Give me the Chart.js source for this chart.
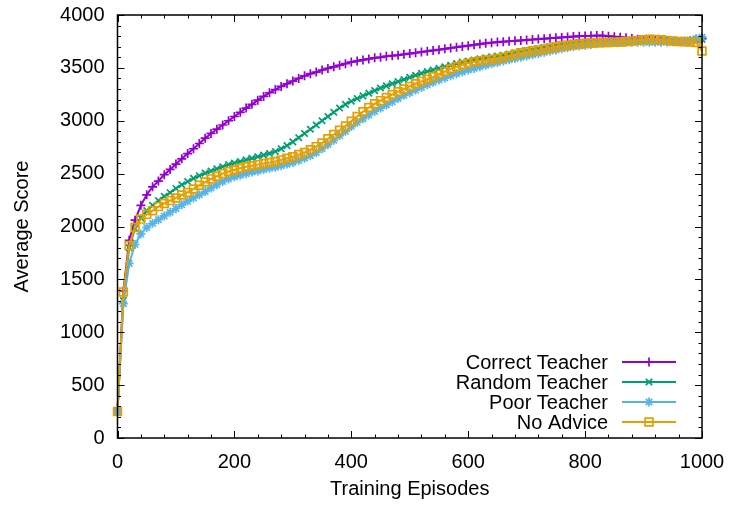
<!DOCTYPE html>
<html>
<head>
<meta charset="utf-8">
<script src="https://cdn.jsdelivr.net/npm/chart.js@4.4.1/dist/chart.umd.min.js"></script>
<style>
  html, body { margin: 0; padding: 0; background: #fff; }
  #wrap { width: 730px; height: 506px; }
</style>
</head>
<body>
<div id="wrap"><canvas id="scoreChart" width="730" height="506"></canvas></div>
<script>
const episodes = [
  0, 10, 20, 30, 40, 50, 60, 70, 80, 90,
  100, 110, 120, 130, 140, 150, 160, 170, 180, 190,
  200, 210, 220, 230, 240, 250, 260, 270, 280, 290,
  300, 310, 320, 330, 340, 350, 360, 370, 380, 390,
  400, 410, 420, 430, 440, 450, 460, 470, 480, 490,
  500, 510, 520, 530, 540, 550, 560, 570, 580, 590,
  600, 610, 620, 630, 640, 650, 660, 670, 680, 690,
  700, 710, 720, 730, 740, 750, 760, 770, 780, 790,
  800, 810, 820, 830, 840, 850, 860, 870, 880, 890,
  900, 910, 920, 930, 940, 950, 960, 970, 980, 990,
  1000
];

const correctTeacher = [
  250, 1390, 1870, 2060, 2200, 2300, 2375, 2430, 2490, 2540,
  2590, 2640, 2690, 2735, 2785, 2835, 2880, 2920, 2960, 3000,
  3040, 3080, 3120, 3155, 3195, 3230, 3265, 3295, 3325, 3350,
  3375, 3400, 3425, 3445, 3460, 3480, 3495, 3510, 3525, 3540,
  3555, 3565, 3575, 3585, 3595, 3600, 3610, 3615, 3620, 3628,
  3635, 3643, 3650, 3657, 3665, 3672, 3680, 3688, 3695, 3703,
  3710, 3718, 3725, 3732, 3738, 3744, 3748, 3752, 3756, 3760,
  3764, 3768, 3772, 3776, 3780, 3784, 3788, 3792, 3796, 3800,
  3802, 3804, 3805, 3805, 3800, 3795, 3790, 3785, 3778, 3770,
  3765, 3760, 3758, 3755, 3752, 3750, 3750, 3752, 3760, 3770,
  3775
];

const randomTeacher = [
  250, 1300, 1800, 1980, 2080, 2150, 2200, 2245, 2285, 2320,
  2360, 2395, 2425, 2455, 2480, 2505, 2525, 2545, 2565, 2585,
  2600, 2615, 2630, 2645, 2660, 2675, 2690, 2710, 2735, 2765,
  2800, 2840, 2880, 2920, 2960, 3000, 3040, 3080, 3120, 3155,
  3185, 3210, 3235, 3260, 3285, 3310, 3330, 3350, 3370, 3390,
  3410, 3430, 3448, 3465, 3480, 3495, 3510, 3525, 3540, 3555,
  3565, 3575, 3585, 3595, 3605, 3612, 3620, 3630, 3640, 3650,
  3660, 3670, 3680, 3690, 3700, 3710, 3718, 3726, 3734, 3740,
  3745, 3750, 3752, 3755, 3757, 3758, 3758, 3757, 3757, 3756,
  3756, 3757, 3757, 3757, 3757, 3758, 3758, 3760, 3762, 3765,
  3770
];

const poorTeacher = [
  250, 1270, 1650, 1830, 1930, 1990, 2030, 2065, 2100, 2135,
  2170, 2205, 2240, 2270, 2300, 2330, 2365, 2395, 2425, 2450,
  2470, 2485, 2500, 2515, 2525, 2540, 2550, 2560, 2575, 2590,
  2605, 2625, 2645, 2670, 2700, 2735, 2775, 2815, 2860, 2900,
  2945, 2985, 3020, 3055, 3090, 3120, 3150, 3180, 3210, 3240,
  3265, 3290, 3315, 3340, 3365, 3385, 3405, 3425, 3445, 3462,
  3480, 3495, 3510, 3525, 3540, 3552, 3565, 3578, 3590, 3600,
  3612, 3624, 3636, 3648, 3660, 3670, 3680, 3690, 3700, 3708,
  3715, 3722, 3728, 3734, 3738, 3740, 3742, 3742, 3742, 3742,
  3742, 3742, 3742, 3742, 3744, 3746, 3748, 3752, 3760, 3775,
  3790
];

const noAdvice = [
  250, 1380, 1820, 1990, 2070, 2115, 2150, 2188, 2218, 2245,
  2270, 2298, 2322, 2355, 2390, 2420, 2450, 2475, 2500, 2520,
  2535, 2550, 2565, 2575, 2585, 2595, 2605, 2615, 2630, 2645,
  2660, 2680, 2700, 2725, 2755, 2790, 2830, 2870, 2910, 2950,
  2995, 3040, 3085, 3125, 3160, 3190, 3220, 3248, 3275, 3300,
  3325, 3350, 3372, 3392, 3415, 3440, 3465, 3490, 3510, 3530,
  3545, 3558, 3568, 3575, 3580, 3588, 3600, 3615, 3630, 3642,
  3652, 3662, 3670, 3678, 3688, 3698, 3706, 3714, 3720, 3725,
  3730, 3735, 3738, 3740, 3741, 3742, 3745, 3750, 3755, 3760,
  3765, 3770, 3768, 3765, 3760, 3755, 3750, 3748, 3745, 3740,
  3660
];

const seriesNames = ["Correct Teacher", "Random Teacher", "Poor Teacher", "No Advice"];
const seriesColors = ["#9400d3", "#009e73", "#56b4e9", "#e69f00"];
const seriesMarkers = ["cross", "crossRot", "star", "rect"];
const xTicks = [0, 200, 400, 600, 800, 1000];
const yTicks = [0, 500, 1000, 1500, 2000, 2500, 3000, 3500, 4000];

const FONT = "'Liberation Sans', Arial, Helvetica, sans-serif";
const FSIZE = 20;

function makeSet(i, values) {
  return {
    label: seriesNames[i],
    data: values,
    borderColor: seriesColors[i],
    backgroundColor: "rgba(0,0,0,0)",
    borderWidth: 2,
    pointStyle: seriesMarkers[i],
    pointRadius: seriesMarkers[i] === "rect" ? 5.5 : 4.5,
    pointBorderWidth: 1.7,
    pointBorderColor: seriesColors[i],
    pointBackgroundColor: "rgba(0,0,0,0)",
    tension: 0,
    clip: false,
    order: 4 - i
  };
}

// gnuplot-style frame with inward ticks on all four sides
const framePlugin = {
  id: "frame",
  afterDatasetsDraw(chart) {
    const { ctx, chartArea: a, scales } = chart;
    const x = scales.x, y = scales.y;
    ctx.save();
    ctx.strokeStyle = "#000";
    ctx.lineWidth = 1;
    ctx.beginPath();
    for (let v = 0; v <= 4000; v += 100) {
      const py = Math.round(y.getPixelForValue(v)) + 0.5;
      const len = v % 500 === 0 ? 7 : 3.5;
      ctx.moveTo(a.left, py); ctx.lineTo(a.left + len, py);
      ctx.moveTo(a.right, py); ctx.lineTo(a.right - len, py);
    }
    for (let v = 0; v <= 1000; v += 40) {
      const px = Math.round(x.getPixelForValue(v)) + 0.5;
      const len = v % 200 === 0 ? 7 : 3.5;
      ctx.moveTo(px, a.bottom); ctx.lineTo(px, a.bottom - len);
      ctx.moveTo(px, a.top); ctx.lineTo(px, a.top + len);
    }
    ctx.stroke();
    ctx.lineWidth = 1.5;
    ctx.strokeRect(a.left, a.top, a.right - a.left, a.bottom - a.top);
    ctx.restore();
  }
};

// legend inside the plot, text right-aligned with sample on the right
const keyPlugin = {
  id: "key",
  afterDatasetsDraw(chart) {
    const { ctx, chartArea: a } = chart;
    const textRight = a.right - 94;
    const lineL = a.right - 80, lineR = a.right - 26;
    const top = a.bottom - 76;
    ctx.save();
    ctx.font = FSIZE + "px " + FONT;
    ctx.textAlign = "right";
    ctx.textBaseline = "middle";
    chart.data.datasets.forEach((ds, i) => {
      const cy = top + i * 20;
      ctx.fillStyle = "#000";
      ctx.fillText(ds.label, textRight, cy + 1);
      ctx.strokeStyle = ds.borderColor;
      ctx.lineWidth = 2;
      ctx.beginPath();
      ctx.moveTo(lineL, cy); ctx.lineTo(lineR, cy);
      ctx.stroke();
      ctx.lineWidth = ds.pointBorderWidth;
      ctx.fillStyle = "rgba(0,0,0,0)";
      Chart.helpers.drawPoint(ctx, {
        pointStyle: ds.pointStyle,
        radius: ds.pointRadius,
        borderWidth: ds.pointBorderWidth,
        rotation: 0
      }, (lineL + lineR) / 2, cy);
    });
    ctx.restore();
  }
};

new Chart(document.getElementById("scoreChart"), {
  type: "line",
  data: {
    labels: episodes,
    datasets: [
      makeSet(0, correctTeacher),
      makeSet(1, randomTeacher),
      makeSet(2, poorTeacher),
      makeSet(3, noAdvice)
    ]
  },
  options: {
    responsive: false,
    animation: false,
    layout: { padding: { top: 15, right: 28, left: 0, bottom: 0 } },
    plugins: {
      legend: { display: false },
      tooltip: { enabled: false }
    },
    scales: {
      x: {
        type: "linear",
        min: 0,
        max: 1000,
        afterFit: s => { s.height = 68; s.paddingLeft = 0; s.paddingRight = 0; },
        afterBuildTicks: s => { s.ticks = xTicks.map(v => ({ value: v })); },
        grid: { display: false, drawTicks: false },
        border: { display: false },
        ticks: {
          color: "#000", padding: 12, maxRotation: 0,
          font: { size: FSIZE, family: FONT },
          callback: v => String(v)
        },
        title: {
          display: true,
          text: "Training Episodes",
          color: "#000",
          padding: { top: 0, bottom: 5 },
          font: { size: FSIZE, family: FONT }
        }
      },
      y: {
        min: 0,
        max: 4000,
        afterFit: s => { s.width = 117.5; s.paddingTop = 0; s.paddingBottom = 0; },
        afterBuildTicks: s => { s.ticks = yTicks.map(v => ({ value: v })); },
        grid: { display: false, drawTicks: false },
        border: { display: false },
        ticks: {
          color: "#000", padding: 13,
          font: { size: FSIZE, family: FONT },
          callback: v => String(v)
        },
        title: {
          display: true,
          text: "Average Score",
          color: "#000",
          padding: { top: 10, bottom: 0 },
          font: { size: FSIZE, family: FONT }
        }
      }
    }
  },
  plugins: [framePlugin, keyPlugin]
});
</script>
</body>
</html>
